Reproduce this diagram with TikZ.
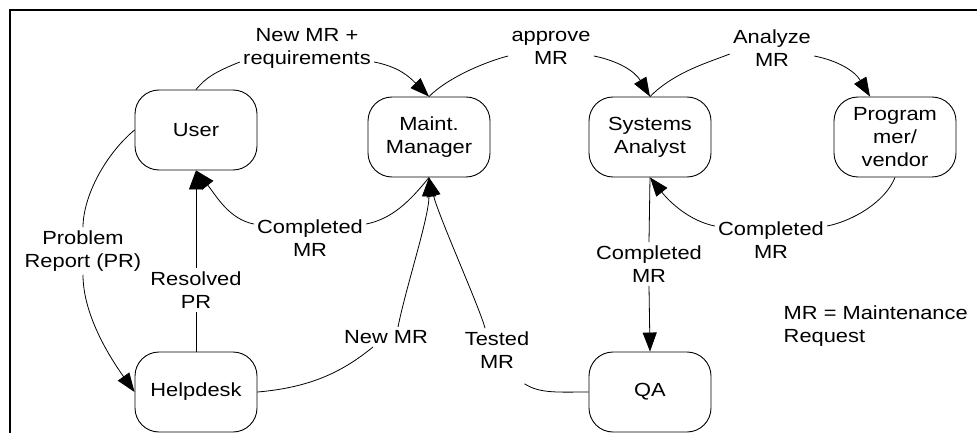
\documentclass[tikz,border=0pt]{standalone}
\usepackage{fontspec}
\setmainfont[FakeStretch=1.15]{Liberation Sans}
\usepackage{tikz}
\usetikzlibrary{arrows.meta}
\tikzstyle{actor} = [draw, line width=0.9pt, rounded corners=24pt, minimum width=122pt, minimum height=80pt, align=center]
\tikzstyle{flow} = [align=center, inner sep=3pt]

\begin{document}
\begin{tikzpicture}[x=1pt, y=-1pt, line width=0.8pt, >={Triangle[length=19pt,width=14pt]}, font=\fontsize{19}{23}\selectfont]
\useasboundingbox (0,0) rectangle (977,433);
\draw [line width=2.5pt] (977,10) -- (10,10) -- (10,433);

\node [actor] (user) at (196,130) {User};
\node [actor] (mgr) at (429,137) {Maint.\\Manager};
\node [actor] (sa) at (650,137) {Systems\\Analyst};
\node [actor] (prog) at (895,137) {Program\\mer/\\vendor};
\node [actor] (help) at (196,392) {Helpdesk};
\node [actor] (qa) at (650,392) {QA};

\node [flow] (lreq) at (307,48) {New MR +\\requirements};
\node [flow] (lapp) at (551,48) {approve\\MR};
\node [flow] (lana) at (772,48) {Analyze\\MR};
\node [flow] (lcomp1) at (310,238) {Completed\\MR};
\node [flow] (lcomp2) at (771,240) {Completed\\MR};
\node [flow] (lcomp3) at (649,264) {Completed\\MR};
\node [flow] (lprob) at (83,251) {Problem\\Report (PR)};
\node [flow] (lres) at (196,290) {Resolved\\PR};
\node [flow] (lnew) at (386,337) {New MR};
\node [flow] (ltest) at (497,350) {Tested\\MR};
\node [anchor=west, align=left] (legend) at (780,326) {MR = Maintenance\\Request};

\draw (user.north) .. controls +(10,-12) and +(-25,10) .. ([yshift=-14pt]lreq.west);
\draw [->] ([yshift=-14pt]lreq.east) .. controls +(25,5) and +(-20,-20) .. (mgr.north);
\draw (mgr.north) .. controls +(20,-20) and +(-20,5) .. ([yshift=-8pt]lapp.west);
\draw [->] ([yshift=-8pt]lapp.east) .. controls +(25,5) and +(-15,-25) .. (sa.north);
\draw (sa.north) .. controls +(25,-25) and +(-20,8) .. ([yshift=-6pt]lana.west);
\draw [->] ([yshift=-8pt]lana.east) .. controls +(25,5) and +(-15,-25) .. ([xshift=-25pt]prog.north);

\draw (prog.south) .. controls +(-10,25) and +(25,-5) .. ([yshift=14pt]lcomp2.east);
\draw [->] ([yshift=14pt]lcomp2.west) .. controls +(-25,-5) and +(20,25) .. (sa.south);
\draw (sa.south) -- (lcomp3.north);
\draw [->] (lcomp3.south) -- (qa.north);

\draw (mgr.south) .. controls +(-20,25) and +(25,-5) .. ([yshift=14pt]lcomp1.east);
\draw [->] ([yshift=14pt]lcomp1.west) .. controls +(-25,-5) and +(20,25) .. (user.south);
\draw (help.north) -- (lres.south);
\draw [->] (lres.north) -- (user.south);

\draw (user.west) .. controls +(-30,25) and +(0,-30) .. (lprob.north);
\draw [->] (lprob.south) .. controls +(0,40) and +(-25,-35) .. (help.west);

\draw (help.east) .. controls +(60,-5) and +(-25,20) .. ([xshift=-13pt]lnew.south);
\draw [->] ([xshift=12pt]lnew.north) .. controls +(8,-40) and +(0,40) .. (mgr.south);
\draw (qa.west) .. controls +(-30,0) and +(15,10) .. ([shift={(-8pt,-12pt)}]ltest.south east);
\draw [->] ([xshift=-12pt]ltest.north) .. controls +(-5,-20) and +(10,40) .. (mgr.south);
\end{tikzpicture}
\end{document}
